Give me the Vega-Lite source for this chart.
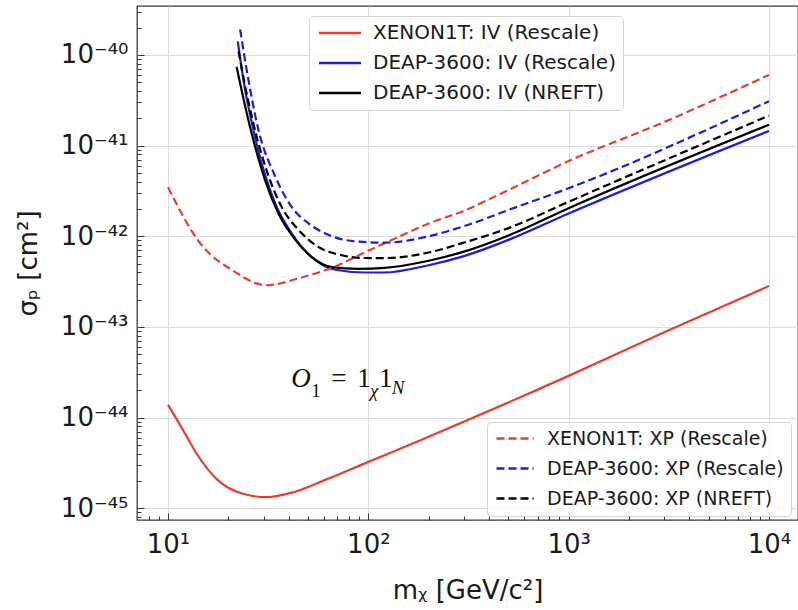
{
  "$schema": "https://vega.github.io/schema/vega-lite/v6.json",
  "width": 661,
  "height": 514,
  "autosize": {"type": "none"},
  "padding": {"left": 137, "top": 6, "right": 0, "bottom": 90},
  "background": "white",
  "config": {
    "view": {"stroke": "#3a3a3a", "strokeWidth": 1.3},
    "font": "DejaVu Sans"
  },
  "datasets": {
    "curves": [
      {"series": "XENON1T: IV (Rescale)", "m": 10, "sigma": 1.38e-44},
      {"series": "XENON1T: IV (Rescale)", "m": 11.9, "sigma": 7.24e-45},
      {"series": "XENON1T: IV (Rescale)", "m": 13.9, "sigma": 3.98e-45},
      {"series": "XENON1T: IV (Rescale)", "m": 17.5, "sigma": 2.09e-45},
      {"series": "XENON1T: IV (Rescale)", "m": 23.4, "sigma": 1.45e-45},
      {"series": "XENON1T: IV (Rescale)", "m": 31.1, "sigma": 1.32e-45},
      {"series": "XENON1T: IV (Rescale)", "m": 42.3, "sigma": 1.5e-45},
      {"series": "XENON1T: IV (Rescale)", "m": 62.2, "sigma": 2.09e-45},
      {"series": "XENON1T: IV (Rescale)", "m": 100, "sigma": 3.24e-45},
      {"series": "XENON1T: IV (Rescale)", "m": 182, "sigma": 5.62e-45},
      {"series": "XENON1T: IV (Rescale)", "m": 1000, "sigma": 2.88e-44},
      {"series": "XENON1T: IV (Rescale)", "m": 3000, "sigma": 8.71e-44},
      {"series": "XENON1T: IV (Rescale)", "m": 10000, "sigma": 2.82e-43},

      {"series": "DEAP-3600: IV (Rescale)", "m": 22.3, "sigma": 1.41e-40},
      {"series": "DEAP-3600: IV (Rescale)", "m": 23.8, "sigma": 5.25e-41},
      {"series": "DEAP-3600: IV (Rescale)", "m": 26.7, "sigma": 1.48e-41},
      {"series": "DEAP-3600: IV (Rescale)", "m": 30.0, "sigma": 5.37e-42},
      {"series": "DEAP-3600: IV (Rescale)", "m": 34.3, "sigma": 2.29e-42},
      {"series": "DEAP-3600: IV (Rescale)", "m": 41.5, "sigma": 1.07e-42},
      {"series": "DEAP-3600: IV (Rescale)", "m": 52.2, "sigma": 5.89e-43},
      {"series": "DEAP-3600: IV (Rescale)", "m": 68.4, "sigma": 4.27e-43},
      {"series": "DEAP-3600: IV (Rescale)", "m": 96.6, "sigma": 3.98e-43},
      {"series": "DEAP-3600: IV (Rescale)", "m": 120, "sigma": 3.98e-43},
      {"series": "DEAP-3600: IV (Rescale)", "m": 200, "sigma": 4.79e-43},
      {"series": "DEAP-3600: IV (Rescale)", "m": 300, "sigma": 6.03e-43},
      {"series": "DEAP-3600: IV (Rescale)", "m": 501, "sigma": 9.12e-43},
      {"series": "DEAP-3600: IV (Rescale)", "m": 1000, "sigma": 1.78e-42},
      {"series": "DEAP-3600: IV (Rescale)", "m": 10000, "sigma": 1.45e-41},

      {"series": "DEAP-3600: IV (NREFT)", "m": 22.0, "sigma": 7.41e-41},
      {"series": "DEAP-3600: IV (NREFT)", "m": 24.3, "sigma": 2.69e-41},
      {"series": "DEAP-3600: IV (NREFT)", "m": 27.2, "sigma": 9.77e-42},
      {"series": "DEAP-3600: IV (NREFT)", "m": 30.5, "sigma": 4.17e-42},
      {"series": "DEAP-3600: IV (NREFT)", "m": 35.6, "sigma": 1.78e-42},
      {"series": "DEAP-3600: IV (NREFT)", "m": 43.2, "sigma": 9.12e-43},
      {"series": "DEAP-3600: IV (NREFT)", "m": 52.2, "sigma": 5.89e-43},
      {"series": "DEAP-3600: IV (NREFT)", "m": 65.8, "sigma": 4.57e-43},
      {"series": "DEAP-3600: IV (NREFT)", "m": 89.5, "sigma": 4.37e-43},
      {"series": "DEAP-3600: IV (NREFT)", "m": 120, "sigma": 4.47e-43},
      {"series": "DEAP-3600: IV (NREFT)", "m": 200, "sigma": 5.37e-43},
      {"series": "DEAP-3600: IV (NREFT)", "m": 300, "sigma": 6.76e-43},
      {"series": "DEAP-3600: IV (NREFT)", "m": 501, "sigma": 1.02e-42},
      {"series": "DEAP-3600: IV (NREFT)", "m": 1000, "sigma": 2.04e-42},
      {"series": "DEAP-3600: IV (NREFT)", "m": 10000, "sigma": 1.70e-41},

      {"series": "XENON1T: XP (Rescale)", "m": 10, "sigma": 3.47e-42},
      {"series": "XENON1T: XP (Rescale)", "m": 14.5, "sigma": 8.32e-43},
      {"series": "XENON1T: XP (Rescale)", "m": 21.1, "sigma": 4.17e-43},
      {"series": "XENON1T: XP (Rescale)", "m": 31, "sigma": 2.88e-43},
      {"series": "XENON1T: XP (Rescale)", "m": 45.7, "sigma": 3.47e-43},
      {"series": "XENON1T: XP (Rescale)", "m": 67, "sigma": 4.57e-43},
      {"series": "XENON1T: XP (Rescale)", "m": 100, "sigma": 6.92e-43},
      {"series": "XENON1T: XP (Rescale)", "m": 144, "sigma": 1.0e-42},
      {"series": "XENON1T: XP (Rescale)", "m": 200, "sigma": 1.38e-42},
      {"series": "XENON1T: XP (Rescale)", "m": 300, "sigma": 1.91e-42},
      {"series": "XENON1T: XP (Rescale)", "m": 501, "sigma": 3.24e-42},
      {"series": "XENON1T: XP (Rescale)", "m": 1000, "sigma": 6.76e-42},
      {"series": "XENON1T: XP (Rescale)", "m": 3000, "sigma": 1.82e-41},
      {"series": "XENON1T: XP (Rescale)", "m": 10000, "sigma": 6.03e-41},

      {"series": "DEAP-3600: XP (Rescale)", "m": 22.9, "sigma": 1.91e-40},
      {"series": "DEAP-3600: XP (Rescale)", "m": 24.7, "sigma": 6.84e-41},
      {"series": "DEAP-3600: XP (Rescale)", "m": 28.3, "sigma": 1.48e-41},
      {"series": "DEAP-3600: XP (Rescale)", "m": 34.3, "sigma": 4.57e-42},
      {"series": "DEAP-3600: XP (Rescale)", "m": 41.5, "sigma": 2.09e-42},
      {"series": "DEAP-3600: XP (Rescale)", "m": 50.4, "sigma": 1.38e-42},
      {"series": "DEAP-3600: XP (Rescale)", "m": 61, "sigma": 1.07e-42},
      {"series": "DEAP-3600: XP (Rescale)", "m": 89.5, "sigma": 8.71e-43},
      {"series": "DEAP-3600: XP (Rescale)", "m": 122, "sigma": 8.51e-43},
      {"series": "DEAP-3600: XP (Rescale)", "m": 200, "sigma": 1.0e-42},
      {"series": "DEAP-3600: XP (Rescale)", "m": 300, "sigma": 1.29e-42},
      {"series": "DEAP-3600: XP (Rescale)", "m": 501, "sigma": 1.95e-42},
      {"series": "DEAP-3600: XP (Rescale)", "m": 1000, "sigma": 3.39e-42},
      {"series": "DEAP-3600: XP (Rescale)", "m": 10000, "sigma": 3.09e-41},

      {"series": "DEAP-3600: XP (NREFT)", "m": 22.5, "sigma": 1.10e-40},
      {"series": "DEAP-3600: XP (NREFT)", "m": 24.3, "sigma": 4.47e-41},
      {"series": "DEAP-3600: XP (NREFT)", "m": 27.7, "sigma": 1.26e-41},
      {"series": "DEAP-3600: XP (NREFT)", "m": 31.8, "sigma": 4.57e-42},
      {"series": "DEAP-3600: XP (NREFT)", "m": 37, "sigma": 2.09e-42},
      {"series": "DEAP-3600: XP (NREFT)", "m": 44.9, "sigma": 1.17e-42},
      {"series": "DEAP-3600: XP (NREFT)", "m": 56.5, "sigma": 7.59e-43},
      {"series": "DEAP-3600: XP (NREFT)", "m": 73.8, "sigma": 6.17e-43},
      {"series": "DEAP-3600: XP (NREFT)", "m": 96.6, "sigma": 5.75e-43},
      {"series": "DEAP-3600: XP (NREFT)", "m": 122, "sigma": 5.75e-43},
      {"series": "DEAP-3600: XP (NREFT)", "m": 200, "sigma": 6.61e-43},
      {"series": "DEAP-3600: XP (NREFT)", "m": 300, "sigma": 8.51e-43},
      {"series": "DEAP-3600: XP (NREFT)", "m": 501, "sigma": 1.23e-42},
      {"series": "DEAP-3600: XP (NREFT)", "m": 1000, "sigma": 2.40e-42},
      {"series": "DEAP-3600: XP (NREFT)", "m": 10000, "sigma": 2.14e-41}
    ],
    "annoItalic": [{"t": "O", "m": 41.2, "s": 2.15e-44}],
    "annoUpright": [
      {"t": "=", "m": 65.3, "s": 2.15e-44},
      {"t": "1", "m": 88.1, "s": 2.15e-44},
      {"t": "1", "m": 113, "s": 2.15e-44}
    ],
    "annoSubItalic": [
      {"t": "χ", "m": 102, "s": 1.70e-44},
      {"t": "N", "m": 131, "s": 1.84e-44}
    ],
    "annoSubUpright": [{"t": "1", "m": 51.9, "s": 1.70e-44}]
  },
  "layer": [
    {
      "data": {"name": "curves"},
      "transform": [{"filter": "indexof(datum.series, ': IV') >= 0"}],
      "mark": {"type": "line", "strokeWidth": 2.2, "clip": true, "interpolate": "monotone"},
      "encoding": {
        "x": {
          "field": "m", "type": "quantitative",
          "scale": {"type": "log", "domain": [7.0, 13960], "nice": false},
          "axis": {
            "values": [10, 100, 1000, 10000],
            "labelExpr": "'10' + ['¹','²','³','⁴'][round(log(datum.value)/LN10)-1]",
            "title": "mᵪ [GeV/c²]",
            "grid": true, "gridColor": "#dcdcdc", "gridWidth": 1,
            "domain": false,
            "tickSize": -7, "tickColor": "#333", "tickWidth": 1,
            "labelFont": "DejaVu Sans", "labelFontSize": 26, "labelColor": "#1a1a1a",
            "labelPadding": 18, "labelFlush": false,
            "titleFont": "DejaVu Sans", "titleFontSize": 26, "titleFontWeight": "normal", "titleColor": "#1a1a1a",
            "titlePadding": 20
          }
        },
        "y": {
          "field": "sigma", "type": "quantitative",
          "scale": {"type": "log", "domain": [7.4e-46, 3.47e-40], "nice": false},
          "axis": {
            "values": [1e-45, 1e-44, 1e-43, 1e-42, 1e-41, 1e-40],
            "labelExpr": "'10' + ['⁻⁴⁵','⁻⁴⁴','⁻⁴³','⁻⁴²','⁻⁴¹','⁻⁴⁰'][round(log(datum.value)/LN10)+45]",
            "title": "σₚ [cm²]",
            "grid": true, "gridColor": "#dcdcdc", "gridWidth": 1,
            "domain": false,
            "tickSize": -7, "tickColor": "#333", "tickWidth": 1,
            "labelFont": "DejaVu Sans", "labelFontSize": 26, "labelColor": "#1a1a1a",
            "labelPadding": 16, "labelFlush": false,
            "titleFont": "DejaVu Sans", "titleFontSize": 26, "titleFontWeight": "normal", "titleColor": "#1a1a1a",
            "titlePadding": 19
          }
        },
        "color": {
          "field": "series", "type": "nominal",
          "scale": {
            "domain": ["XENON1T: IV (Rescale)", "DEAP-3600: IV (Rescale)", "DEAP-3600: IV (NREFT)"],
            "range": ["#e3402f", "#1c1cdc", "#000000"]
          },
          "legend": {
            "orient": "none", "legendX": 172, "legendY": 10,
            "title": null,
            "symbolType": "M-1,0L5,0", "symbolSize": 196, "symbolStrokeWidth": 2.4, "symbolFillColor": "transparent",
            "labelFont": "DejaVu Sans", "labelFontSize": 20, "labelColor": "#1a1a1a", "labelLimit": 0,
            "labelOffset": 37,
            "fillColor": "rgba(255,255,255,0.85)", "strokeColor": "#d4d4d4", "cornerRadius": 4,
            "padding": 7, "rowPadding": 10
          }
        }
      }
    },
    {
      "data": {"name": "curves"},
      "transform": [{"filter": "indexof(datum.series, ': XP') >= 0"}],
      "mark": {"type": "line", "strokeWidth": 2.2, "strokeDash": [8, 4], "clip": true, "interpolate": "monotone"},
      "encoding": {
        "x": {
          "field": "m", "type": "quantitative",
          "axis": {
            "values": [8, 9, 20, 30, 40, 50, 60, 70, 80, 90, 200, 300, 400, 500, 600, 700, 800, 900, 2000, 3000, 4000, 5000, 6000, 7000, 8000, 9000],
            "orient": "bottom", "labels": false, "title": null, "grid": false, "domain": false,
            "tickSize": -4, "tickColor": "#333", "tickWidth": 1
          }
        },
        "y": {
          "field": "sigma", "type": "quantitative",
          "axis": {
            "values": [8e-46, 9e-46, 2e-45, 3e-45, 4e-45, 5e-45, 6e-45, 7e-45, 8e-45, 9e-45, 2e-44, 3e-44, 4e-44, 5e-44, 6e-44, 7e-44, 8e-44, 9e-44, 2e-43, 3e-43, 4e-43, 5e-43, 6e-43, 7e-43, 8e-43, 9e-43, 2e-42, 3e-42, 4e-42, 5e-42, 6e-42, 7e-42, 8e-42, 9e-42, 2e-41, 3e-41, 4e-41, 5e-41, 6e-41, 7e-41, 8e-41, 9e-41, 2e-40, 3e-40],
            "orient": "left", "labels": false, "title": null, "grid": false, "domain": false,
            "tickSize": -4, "tickColor": "#333", "tickWidth": 1
          }
        },
        "color": {
          "field": "series", "type": "nominal",
          "scale": {
            "domain": ["XENON1T: XP (Rescale)", "DEAP-3600: XP (Rescale)", "DEAP-3600: XP (NREFT)"],
            "range": ["#e3402f", "#1c1cdc", "#000000"]
          },
          "legend": {
            "orient": "none", "legendX": 350, "legendY": 416,
            "title": null,
            "symbolType": "M-1,0L4.3,0", "symbolSize": 196, "symbolStrokeWidth": 2.4, "symbolDash": [8, 4], "symbolFillColor": "transparent",
            "labelFont": "DejaVu Sans", "labelFontSize": 19, "labelColor": "#1a1a1a", "labelLimit": 0,
            "labelOffset": 34,
            "fillColor": "rgba(255,255,255,0.85)", "strokeColor": "#d4d4d4", "cornerRadius": 4,
            "padding": 7, "rowPadding": 10
          }
        }
      }
    },
    {
      "data": {"name": "annoItalic"},
      "mark": {"type": "text", "font": "Liberation Serif", "fontStyle": "italic", "fontSize": 27, "align": "left", "baseline": "alphabetic", "color": "#111"},
      "encoding": {
        "x": {"field": "m", "type": "quantitative", "axis": null},
        "y": {"field": "s", "type": "quantitative", "axis": null},
        "text": {"field": "t"}
      }
    },
    {
      "data": {"name": "annoUpright"},
      "mark": {"type": "text", "font": "Liberation Serif", "fontSize": 27, "align": "left", "baseline": "alphabetic", "color": "#111"},
      "encoding": {
        "x": {"field": "m", "type": "quantitative", "axis": null},
        "y": {"field": "s", "type": "quantitative", "axis": null},
        "text": {"field": "t"}
      }
    },
    {
      "data": {"name": "annoSubItalic"},
      "mark": {"type": "text", "font": "Liberation Serif", "fontStyle": "italic", "fontSize": 19, "align": "left", "baseline": "alphabetic", "color": "#111"},
      "encoding": {
        "x": {"field": "m", "type": "quantitative", "axis": null},
        "y": {"field": "s", "type": "quantitative", "axis": null},
        "text": {"field": "t"}
      }
    },
    {
      "data": {"name": "annoSubUpright"},
      "mark": {"type": "text", "font": "Liberation Serif", "fontSize": 19, "align": "left", "baseline": "alphabetic", "color": "#111"},
      "encoding": {
        "x": {"field": "m", "type": "quantitative", "axis": null},
        "y": {"field": "s", "type": "quantitative", "axis": null},
        "text": {"field": "t"}
      }
    }
  ],
  "resolve": {
    "scale": {"color": "independent"},
    "legend": {"color": "independent"},
    "axis": {"x": "independent", "y": "independent"}
  }
}
